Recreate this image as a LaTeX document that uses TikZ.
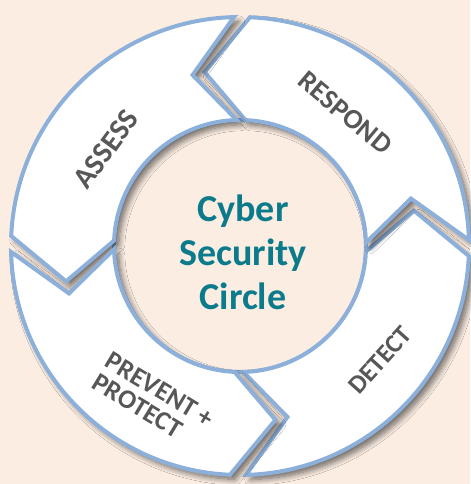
\documentclass[tikz,border=0pt]{standalone}
\usepackage{fontspec}
\setmainfont{Carlito}
\usetikzlibrary{shadows.blur}
\definecolor{bgpeach}{HTML}{FBEDE2}
\definecolor{ringblue}{HTML}{8CB0DA}
\definecolor{cybteal}{HTML}{0B7B8C}
\definecolor{labgray}{HTML}{575757}
\tikzset{
  segbox/.style={draw=ringblue, line width=3pt, fill=white, line join=miter,
    blur shadow={shadow xshift=3.5pt, shadow yshift=-3.5pt, shadow blur radius=4.5pt, shadow blur steps=10, shadow opacity=60}},
  seglabel/.style={text=labgray, font=\bfseries\fontsize{21}{22}\selectfont, inner sep=0pt},
  centertext/.style={text=cybteal, font=\bfseries\fontsize{28.5}{33}\selectfont, align=center, inner sep=0pt}
}
\newcommand\cscseg[2]{%
  \path[segbox] (#1:171.75pt) arc[start angle=#1, end angle=#2, radius=171.75pt]
    -- ({#2+14}:133.1pt) -- (#2:94.5pt)
    arc[start angle=#2, end angle=#1, radius=94.5pt]
    -- ({#1+14}:133.1pt) -- cycle;}
\begin{document}
\begin{tikzpicture}
\useasboundingbox[fill=bgpeach] (-180pt,-178.5pt) rectangle (172.5pt,184.5pt);
\node[circle, draw=ringblue, line width=3pt, fill=bgpeach, minimum size=189pt, inner sep=0pt] (core) at (0,0) {};
\cscseg{-88.5}{-2.5}
\cscseg{1.5}{87.5}
\cscseg{91.5}{177.5}
\cscseg{181.5}{267.5}
\node[centertext] (title) at (2.25pt,-4.5pt) {Cyber\\Security\\Circle};
\node[seglabel, rotate=54, font=\bfseries\fontsize{22.5}{22}\selectfont] (assess) at (-100.5pt,72.75pt) {ASSESS};
\node[seglabel, rotate=-40] (respond) at (79pt,99.75pt) {RESPOND};
\node[seglabel, rotate=48, font=\bfseries\fontsize{19.5}{20}\selectfont] (detect) at (105pt,-85.5pt) {DETECT};
\node[seglabel, rotate=-31, align=left, font=\bfseries\fontsize{20}{19}\selectfont] (prevent) at (-65pt,-116pt) {PREVENT +\\PROTECT};
\end{tikzpicture}
\end{document}
